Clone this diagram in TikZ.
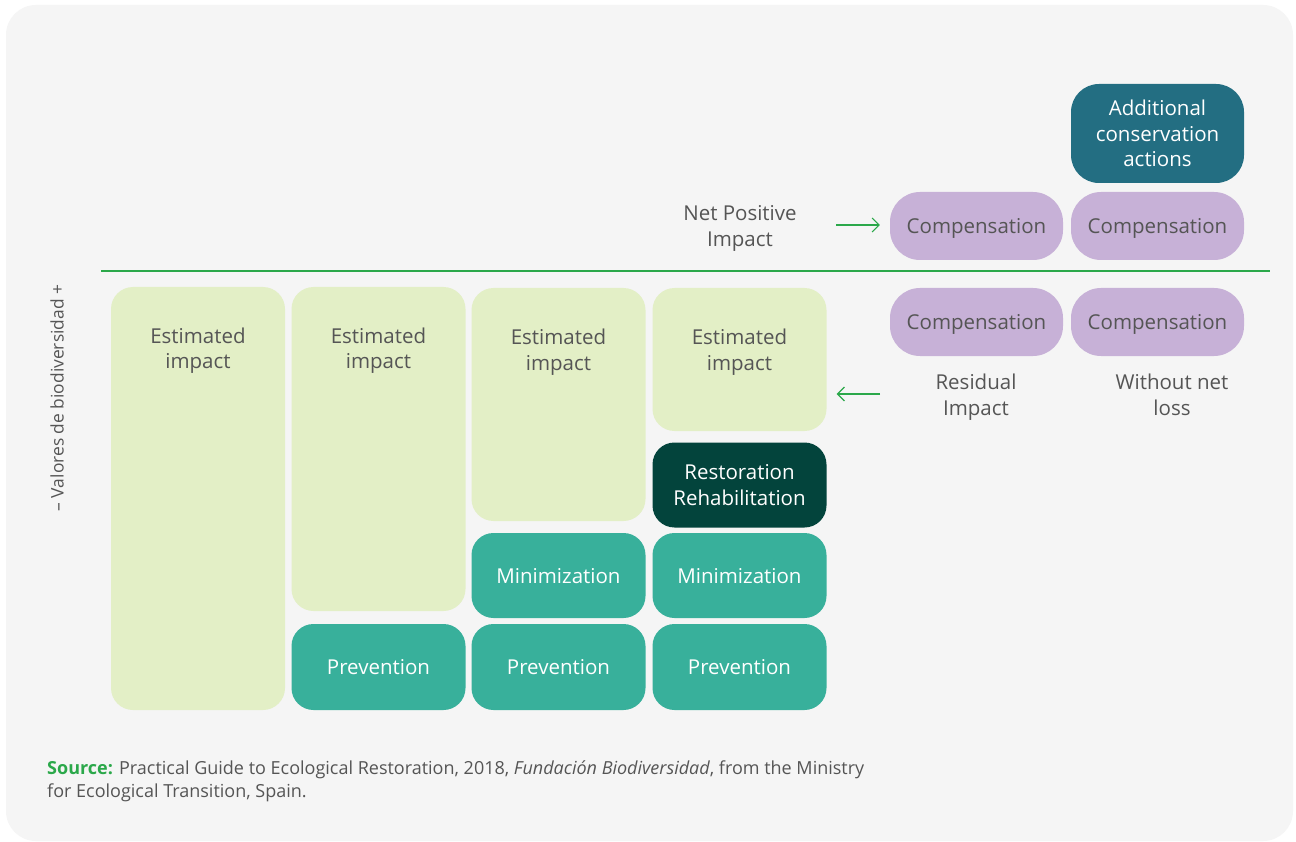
\documentclass[tikz,border=0pt]{standalone}
\usepackage{fontspec}
\setmainfont{Open Sans}
\usetikzlibrary{arrows.meta,positioning}
\definecolor{panel}{HTML}{F5F5F5}
\definecolor{estgreen}{HTML}{E3EFC6}
\definecolor{teal}{HTML}{38B09B}
\definecolor{darkgreen}{HTML}{03443C}
\definecolor{deepblue}{HTML}{236E82}
\definecolor{lilac}{HTML}{C7B1D7}
\definecolor{txtgrey}{HTML}{555555}
\definecolor{linegreen}{HTML}{2BA84A}

\begin{document}
\begin{tikzpicture}[x=1pt,y=-1pt,
    box/.style={rounded corners=22pt, inner sep=0pt, minimum width=174pt,
      align=center, text depth=0pt, font=\fontsize{20.5}{25.5}\selectfont},
    est/.style={box, fill=estgreen},
    act/.style={box, fill=teal, text=white, minimum height=86pt},
    comp/.style={box, fill=lilac, text=txtgrey, rounded corners=30pt,
      minimum width=173pt, minimum height=68pt},
    lbl/.style={align=center, text=txtgrey, text depth=0pt,
      font=\fontsize{20.5}{25.5}\selectfont},
    arr/.style={draw=linegreen, line width=1.1pt, -{Straight Barb[length=7pt,width=14pt]}}]
    \useasboundingbox (0,0) rectangle (1296,842);
    \fill[white] (0,0) rectangle (1296,842);
    \fill[panel, rounded corners=30pt] (6,5) rectangle (1293,841);

    % Axis label
    \node[rotate=90, text=txtgrey, font=\fontsize{17.4}{20}\selectfont] (axis) at (57,398)
      {– Valores de biodiversidad +};

    % Divider
    \draw[linegreen, line width=1.1pt] (101,271) -- (1270,271);

    % Column 1
    \node[est, minimum height=423pt] (est1) at (198,498.5) {};
    \node[lbl] (est1txt) at (198,348) {Estimated\\impact};

    % Column 2
    \node[est, minimum height=324pt] (est2) at (378.5,449) {};
    \node[lbl] (est2txt) at (378.5,348) {Estimated\\impact};
    \node[act] (prev2) at (378.5,667) {Prevention};

    % Column 3
    \node[est, minimum height=233pt] (est3) at (558.5,404.5) {};
    \node[lbl] (est3txt) at (558.5,349.5) {Estimated\\impact};
    \node[act, minimum height=85pt] (min3) at (558.5,575.5) {Minimization};
    \node[act] (prev3) at (558.5,667) {Prevention};

    % Column 4
    \node[est, minimum height=143pt] (est4) at (739.5,359.5) {};
    \node[lbl] (est4txt) at (739.5,349.5) {Estimated\\impact};
    \node[act, fill=darkgreen, minimum height=85pt] (rest4) at (739.5,485)
      {Restoration\\Rehabilitation};
    \node[act, minimum height=85pt] (min4) at (739.5,575.5) {Minimization};
    \node[act] (prev4) at (739.5,667) {Prevention};

    % Compensation
    \node[comp] (comp1) at (976.5,226) {Compensation};
    \node[comp] (comp2) at (1157.5,226) {Compensation};
    \node[comp] (comp3) at (976.5,322) {Compensation};
    \node[comp] (comp4) at (1157.5,322) {Compensation};
    \node[box, fill=deepblue, text=white, rounded corners=28pt, minimum width=173pt,
      minimum height=99pt] (addl) at (1157.5,133.5)
      {Additional\\conservation\\actions};

    % Side labels
    \node[lbl] (netpos) at (740,226) {Net Positive\\Impact};
    \node[lbl] (resid) at (976,394.5) {Residual\\Impact};
    \node[lbl] (nonet) at (1172,394.5) {Without net\\loss};

    % Arrows
    \draw[arr] (836,225) coordinate (pa) -- ([xshift=-10pt]comp1.west |- pa);
    \coordinate (ra) at (880,394);
    \draw[arr] (ra) -- ([xshift=10pt]est4.east |- ra);

    % Source
    \node[anchor=north west, align=left, text=txtgrey, inner sep=0pt,
      font=\fontsize{18}{23}\selectfont] (src) at (47,761)
      {\textcolor{linegreen}{\textbf{Source:}} Practical Guide to Ecological Restoration, 2018,
       \textit{Fundación Biodiversidad}, from the Ministry\\for Ecological Transition, Spain.};
\end{tikzpicture}
\end{document}
